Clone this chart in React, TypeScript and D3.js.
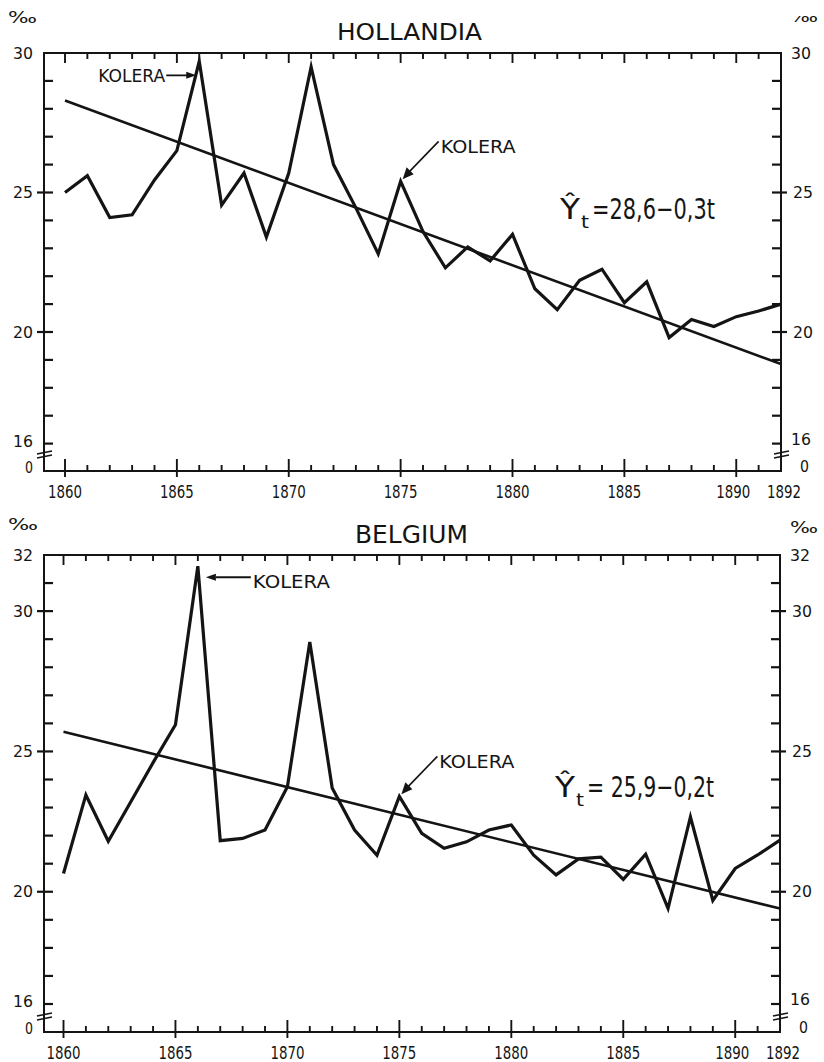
import React from 'react';
import * as d3 from 'd3';

const years = [1860, 1861, 1862, 1863, 1864, 1865, 1866, 1867, 1868, 1869, 1870, 1871, 1872, 1873, 1874, 1875, 1876, 1877, 1878, 1879, 1880, 1881, 1882, 1883, 1884, 1885, 1886, 1887, 1888, 1889, 1890, 1891, 1892];
const hollandia = [25.0, 25.6, 24.1, 24.2, 25.45, 26.5, 29.7, 24.55, 25.7, 23.4, 25.7, 29.5, 26.0, 24.45, 22.8, 25.4, 23.6, 22.3, 23.05, 22.55, 23.5, 21.55, 20.8, 21.85, 22.25, 21.05, 21.8, 19.8, 20.45, 20.2, 20.55, 20.75, 21.0];
const belgium = [20.65, 23.45, 21.8, 23.2, 24.6, 25.95, 31.6, 21.82, 21.9, 22.2, 23.74, 28.9, 23.7, 22.2, 21.3, 23.4, 22.08, 21.55, 21.78, 22.2, 22.38, 21.3, 20.6, 21.17, 21.23, 20.44, 21.34, 19.41, 22.67, 19.69, 20.83, 21.31, 21.84];
const trendYears = [1860, 1892];
const hollandiaTrend = [28.3, 18.85];
const belgiumTrend = [25.7, 19.4];
const xTickLabels = [1860, 1865, 1870, 1875, 1880, 1885, 1890, 1892];
const hollandiaYLabels = [30, 25, 20, 16];
const belgiumYLabels = [32, 30, 25, 20, 16];
const choleraYearsHol = [1866, 1875];
const choleraYearsBel = [1866, 1875];

const FONT = "'DejaVu Sans', sans-serif";
const INK = '#141414';

type TProps = { x: number; y: number; w?: number; size: number; anchor?: 'start' | 'middle' | 'end'; children: React.ReactNode };
const T = ({ x, y, w, size, anchor = 'start', children }: TProps) => {
  let sx = x;
  if (w) {
    if (anchor === 'middle') sx = x - w / 2;
    if (anchor === 'end') sx = x - w;
  }
  return (
    <text x={sx} y={y} fontSize={size} fontFamily={FONT} fill={INK}
      textAnchor={w ? 'start' : anchor}
      {...(w ? { textLength: w, lengthAdjust: 'spacingAndGlyphs' } : {})}>
      {children}
    </text>
  );
};

type PanelProps = {
  title: string; titleX: number; titleW: number; titleY: number; titleSize: number;
  values: number[]; trend: number[]; yLabels: number[];
  x0: number; x1: number; topVal: number; yTop: number; y16: number; axisY: number; breakY: number;
  eq: string; eqX: number; eqY: number; eqW: number;
  cholera: number[]; variant: 'hol' | 'bel';
};

const Panel = (p: PanelProps) => {
  const left = 44;
  const x = d3.scaleLinear().domain([1860, 1892]).range([p.x0, p.x1]);
  const y = d3.scaleLinear().domain([16, p.topVal]).range([p.y16, p.yTop]);
  const line = d3.line<number>().x((_, i) => x(years[i])).y((d) => y(d));
  const tline = d3.line<number>().x((_, i) => x(trendYears[i])).y((d) => y(d));
  const yInts: number[] = [];
  for (let v = 16; v < p.topVal; v++) yInts.push(v);
  const labelsMajor = p.yLabels.filter((v) => v !== 16 && v !== p.topVal);
  const tickYears = years.slice(0, years.length - 1);

  const c1 = p.cholera[0];
  const c2 = p.cholera[1];
  const c1x = x(c1), c1y = y(p.values[years.indexOf(c1)]);
  const c2x = x(c2), c2y = y(p.values[years.indexOf(c2)]);

  return (
    <g>
      <T x={p.titleX} y={p.titleY} w={p.titleW} size={p.titleSize}>{p.title}</T>
      <rect x={left} y={p.yTop} width={p.x1 - left} height={p.axisY - p.yTop} fill="none" stroke={INK} strokeWidth={2} />
      {yInts.map((v) => {
        const major = labelsMajor.indexOf(v) >= 0;
        const yy = y(v);
        return (
          <g key={'yt' + v}>
            <line x1={major ? left - 7 : left} y1={yy} x2={left + 9} y2={yy} stroke={INK} strokeWidth={2.2} />
            <line x1={p.x1 - 9} y1={yy} x2={major ? p.x1 + 6 : p.x1} y2={yy} stroke={INK} strokeWidth={2.2} />
          </g>
        );
      })}
      {tickYears.map((yr) => {
        const major = yr % 5 === 0;
        const xx = x(yr);
        return (
          <g key={'xt' + yr}>
            <line x1={xx} y1={p.axisY - (major ? 12 : 6)} x2={xx} y2={p.axisY + (major ? 6 : 0)} stroke={INK} strokeWidth={1.9} />
            <line x1={xx} y1={p.yTop} x2={xx} y2={p.yTop + (major ? 10 : 6)} stroke={INK} strokeWidth={1.9} />
          </g>
        );
      })}
      {[left, p.x1].map((bx, i) => (
        <g key={'br' + i}>
          <line x1={bx - 7} y1={p.breakY - 1} x2={bx + 8} y2={p.breakY - 4} stroke={INK} strokeWidth={1.6} />
          <line x1={bx - 7} y1={p.breakY + 3} x2={bx + 8} y2={p.breakY} stroke={INK} strokeWidth={1.6} />
        </g>
      ))}
      {p.yLabels.map((v) => (
        <g key={'yl' + v}>
          <T x={33} y={y(v) + (v === 16 ? 3 : 5.5)} w={20} size={15} anchor="end">{String(v)}</T>
          <T x={p.x1 + (v === p.topVal || v === 16 ? 10 : 12)} y={y(v) + (v === 16 ? 1 : 5.5)} w={20} size={15}>{String(v)}</T>
        </g>
      ))}
      <T x={33} y={p.axisY + 2} w={8} size={15} anchor="end">0</T>
      <T x={p.x1 + 19} y={p.axisY + 1} w={9} size={15}>0</T>
      {xTickLabels.map((yr) => (
        <T key={'xl' + yr} x={x(yr) + (yr === 1892 ? 3 : yr === 1890 ? -3 : 0)} y={p.axisY + 27} w={34} size={17} anchor="middle">{String(yr)}</T>
      ))}
      <path d={tline(p.trend) || ''} fill="none" stroke={INK} strokeWidth={2.6} />
      <path d={line(p.values) || ''} fill="none" stroke={INK} strokeWidth={3.2} strokeLinejoin="miter" strokeMiterlimit={6} />
      {p.variant === 'hol' ? (
        <g>
          <T x={c1x - 101} y={c1y + 21} w={67} size={18}>KOLERA</T>
          <path d={`M${c1x - 33},${c1y + 14}H${c1x - 12}`} stroke={INK} strokeWidth={1.8} fill="none" />
          <path d={`M${c1x - 3},${c1y + 14} L${c1x - 13},${c1y + 10.5} L${c1x - 13},${c1y + 17.5} Z`} fill={INK} />
        </g>
      ) : (
        <g>
          <T x={c1x + 55} y={c1y + 22} w={77} size={18}>KOLERA</T>
          <path d={`M${c1x + 53},${c1y + 11}H${c1x + 18}`} stroke={INK} strokeWidth={1.8} fill="none" />
          <path d={`M${c1x + 8},${c1y + 11} L${c1x + 18},${c1y + 7.5} L${c1x + 18},${c1y + 14.5} Z`} fill={INK} />
        </g>
      )}
      <g>
        <T x={c2x + 40} y={c2y - 28} w={75} size={17}>KOLERA</T>
        <path d={`M${c2x + 38},${c2y - 40}L${c2x + 9},${c2y - 10}`} stroke={INK} strokeWidth={1.6} fill="none" />
        <path d={`M${c2x + 2},${c2y - 2} L${c2x + 6},${c2y - 14} L${c2x + 13},${c2y - 7} Z`} fill={INK} />
      </g>
      <T x={p.eqX} y={p.eqY} w={20} size={29}>Ŷ</T>
      <T x={p.eqX + 21} y={p.eqY + 9} w={8} size={18}>t</T>
      <T x={p.eqX + 32} y={p.eqY} w={p.eqW} size={29}>{p.eq}</T>
    </g>
  );
};

export default function App() {
  return (
    <svg width={824} height={1062} viewBox="0 0 824 1062" style={{ position: 'absolute', left: 0, top: 0, background: '#fff' }}>
      <rect x={0} y={0} width={824} height={1062} fill="#fff" />
      <T x={8} y={23} w={29} size={16}>‰</T>
      <svg x={780} y={16} width={44} height={20} viewBox="780 16 44 20" overflow="hidden">
        <T x={790} y={22} w={28} size={16}>‰</T>
      </svg>
      <T x={8} y={530} w={30} size={16}>‰</T>
      <T x={790} y={533} w={28} size={16}>‰</T>
      <Panel title="HOLLANDIA" titleX={337} titleW={145} titleY={40} titleSize={23}
        values={hollandia} trend={hollandiaTrend} yLabels={hollandiaYLabels}
        x0={65} x1={781} topVal={30} yTop={53} y16={443.6} axisY={471} breakY={455}
        eq="=28,6−0,3t" eqX={560} eqY={219} eqW={123} cholera={choleraYearsHol} variant="hol" />
      <Panel title="BELGIUM" titleX={355} titleW={113} titleY={543} titleSize={24}
        values={belgium} trend={belgiumTrend} yLabels={belgiumYLabels}
        x0={63.5} x1={780} topVal={32} yTop={555} y16={1004} axisY={1032} breakY={1017}
        eq="= 25,9−0,2t" eqX={555} eqY={797} eqW={127} cholera={choleraYearsBel} variant="bel" />
    </svg>
  );
}
